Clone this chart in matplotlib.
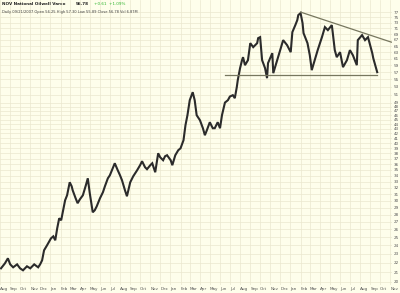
import matplotlib
matplotlib.use('Agg')
import matplotlib.pyplot as plt
import pandas as pd

# price path (roughly weekly turning points)
dates = [
    '2004-08-04', '2004-08-16', '2004-08-25', '2004-09-01', '2004-09-10', '2004-09-22',
    '2004-10-01', '2004-10-10', '2004-10-22', '2004-11-01', '2004-11-13', '2004-11-25',
    '2004-12-01', '2004-12-07', '2004-12-13', '2004-12-22', '2005-01-03', '2005-01-10',
    '2005-01-16', '2005-01-22', '2005-01-28', '2005-02-03', '2005-02-09', '2005-02-15',
    '2005-02-21', '2005-03-01', '2005-03-07', '2005-03-10', '2005-03-19', '2005-03-25',
    '2005-04-01', '2005-04-10', '2005-04-19', '2005-04-25', '2005-05-01', '2005-05-10',
    '2005-05-16', '2005-05-22', '2005-06-01', '2005-06-10', '2005-06-16', '2005-06-25',
    '2005-07-01', '2005-07-10', '2005-07-16', '2005-07-25', '2005-08-01', '2005-08-07',
    '2005-08-16', '2005-08-22', '2005-09-01', '2005-09-10', '2005-09-22', '2005-10-01',
    '2005-10-07', '2005-10-16', '2005-10-22', '2005-11-01', '2005-11-07', '2005-11-16',
    '2005-11-25', '2005-12-01', '2005-12-10', '2005-12-16', '2005-12-22', '2006-01-02',
    '2006-01-07', '2006-01-16', '2006-01-25', '2006-02-01', '2006-02-10', '2006-02-16',
    '2006-02-22', '2006-03-01', '2006-03-10', '2006-03-16', '2006-03-22', '2006-04-01',
    '2006-04-10', '2006-04-16', '2006-04-22', '2006-05-01', '2006-05-10', '2006-05-16',
    '2006-05-25', '2006-06-01', '2006-06-07', '2006-06-16', '2006-06-25', '2006-07-01',
    '2006-07-10', '2006-07-16', '2006-07-22', '2006-07-25', '2006-08-01', '2006-08-07',
    '2006-08-10', '2006-08-16', '2006-08-25', '2006-09-01', '2006-09-10', '2006-09-22',
    '2006-09-25', '2006-10-01', '2006-10-07', '2006-10-16', '2006-10-22', '2006-10-25',
    '2006-11-07', '2006-11-10', '2006-11-22', '2006-12-01', '2006-12-10', '2006-12-22',
    '2007-01-02', '2007-01-07', '2007-01-16', '2007-01-22', '2007-01-25', '2007-02-01',
    '2007-02-07', '2007-02-10', '2007-02-22', '2007-03-01', '2007-03-07', '2007-03-16',
    '2007-03-25', '2007-04-07', '2007-04-16', '2007-04-25', '2007-05-07', '2007-05-10',
    '2007-05-16', '2007-05-22', '2007-06-01', '2007-06-10', '2007-06-22', '2007-07-01',
    '2007-07-10', '2007-07-22', '2007-07-25', '2007-08-07', '2007-08-16', '2007-08-25',
    '2007-09-07', '2007-09-10', '2007-09-16', '2007-09-22',
]
closes = [
    21.41, 21.95, 22.51, 21.84, 21.52, 21.84,
    21.41, 21.20, 21.63, 21.41, 21.84, 21.52,
    21.84, 22.28, 23.43, 24.02, 24.87, 25.12,
    24.63, 26.16, 27.49, 27.22, 28.61, 30.08,
    30.84, 32.91, 32.25, 31.62, 30.38, 29.64,
    30.23, 30.84, 32.41, 33.57, 31.15, 28.33,
    28.61, 29.17, 30.38, 31.31, 32.25, 33.57,
    34.07, 35.30, 36.19, 34.95, 34.07, 33.24,
    31.62, 30.69, 32.91, 33.90, 34.95, 35.84,
    36.56, 35.48, 35.13, 35.84, 36.19, 34.60,
    38.04, 37.29, 36.74, 37.48, 37.67, 36.74,
    35.84, 37.67, 38.62, 39.00, 40.60, 43.77,
    46.01, 49.59, 51.61, 49.59, 46.01, 44.87,
    43.11, 41.63, 42.68, 44.42, 43.11, 43.11,
    44.42, 43.11, 46.01, 49.00, 49.59, 50.50,
    50.85, 50.09, 52.92, 54.81, 58.20, 60.57,
    61.48, 59.07, 60.57, 65.94, 64.64, 65.94,
    67.61, 67.95, 60.57, 58.20, 55.36, 59.67,
    62.72, 56.76, 60.57, 63.68, 66.94, 65.29,
    63.04, 69.67, 72.15, 73.98, 75.85, 76.62,
    72.88, 69.33, 65.94, 62.10, 57.62, 60.57,
    63.68, 67.95, 71.44, 70.37, 72.15, 69.33,
    63.68, 61.48, 63.04, 58.49, 60.57, 63.68,
    62.10, 59.07, 66.94, 68.64, 66.94, 67.95,
    62.72, 61.18, 59.07, 57.04,
]

# hand-drawn lines on the chart
support_dates = ['2006-06-16', '2007-09-22']
support_level = [56.19, 56.19]
trend_dates = ['2007-02-01', '2007-11-04']
trend_level = [77.0, 66.27]

yticks = list(range(20, 50)) + list(range(51, 78, 2))

bg = '#fefeeb'
gridc = '#ebe8cf'

fig = plt.figure(figsize=(4, 2.93), dpi=100, facecolor=bg)
ax = fig.add_axes([0.0, 8 / 293, 392 / 400, 285 / 293])
ax.set_facecolor(bg)

x = pd.to_datetime(dates)
ax.plot(x, closes, color='#2b2b2b', lw=1.5, solid_joinstyle='miter')
ax.plot(pd.to_datetime(support_dates), support_level, color='#77775f', lw=0.9)
ax.plot(pd.to_datetime(trend_dates), trend_level, color='#77775f', lw=0.9)

ax.set_yscale('log')
ax.set_ylim(19.7, 81.8)
ax.set_xlim(pd.Timestamp('2004-08-01'), pd.Timestamp('2007-11-06'))

ax.set_yticks(yticks)
ax.set_yticklabels([str(v) for v in yticks])
ax.yaxis.set_minor_locator(matplotlib.ticker.NullLocator())
ax.yaxis.tick_right()
ax.tick_params(axis='y', length=0, pad=1.5, labelsize=3, colors='#555555')

months = pd.date_range('2004-08-01', '2007-11-01', freq='MS')
ax.set_xticks(months)
ax.set_xticklabels([m.strftime('%b') for m in months], ha='left')
ax.tick_params(axis='x', length=0, pad=1.5, labelsize=3, colors='#555555')

ax.grid(True, color=gridc, lw=0.5)
for s in ax.spines.values():
    s.set_visible(False)

fig.text(0.005, 0.993, 'NOV National Oilwell Varco', fontsize=3, weight='bold',
         va='top', color='#222222')
fig.text(0.19, 0.993, '56.78', fontsize=3, weight='bold', va='top', color='#222222')
fig.text(0.235, 0.993, '+0.61  +1.09%', fontsize=3, va='top', color='#2fb52f')
fig.text(0.005, 0.965, 'Daily 09/21/2007 Open 56.25 High 57.30 Low 55.89 Close 56.78 Vol 6.87M',
         fontsize=2.6, va='top', color='#444444')

fig.savefig('out.png', dpi=100, facecolor=bg)
